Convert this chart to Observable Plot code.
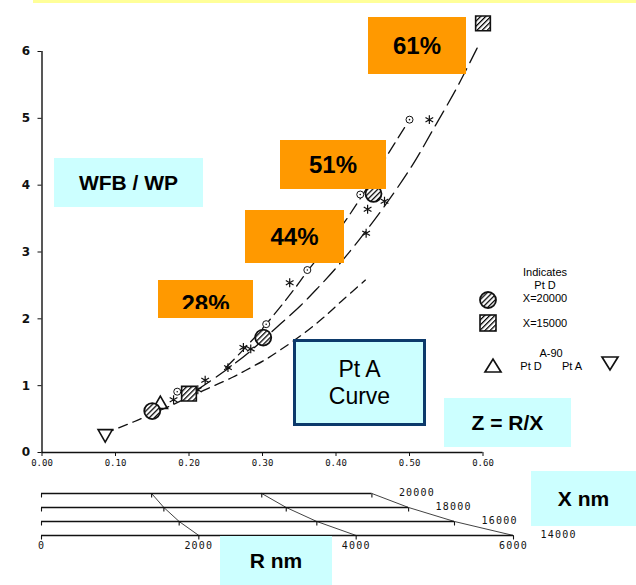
<!DOCTYPE html>
<html>
<head>
<meta charset="utf-8">
<script src="https://cdn.jsdelivr.net/npm/d3@7"></script>
<script src="https://cdn.jsdelivr.net/npm/@observablehq/plot@0.6"></script>
<style>
  body { margin: 0; background: #fff; }
  #wrap { position: relative; width: 636px; height: 585px; overflow: hidden; background: #fff; font-family: Arial, "Liberation Sans", sans-serif; }
  #wrap svg.plot { position: absolute; left: 0; }
  .box { position: absolute; display: flex; align-items: center; justify-content: center; text-align: center; color: #000; box-sizing: border-box; }
  .orange { background: #ff9900; font-weight: bold; font-size: 24px; }
  .cyan { background: #ccffff; font-weight: bold; font-size: 21px; }
  .lg { position: absolute; font-size: 11px; color: #000; transform: translate(-50%, -50%); white-space: nowrap; }
</style>
</head>
<body>
<svg width="0" height="0" style="position:absolute">
  <defs>
    <pattern id="hatch" patternUnits="userSpaceOnUse" width="3.6" height="3.6" patternTransform="rotate(45)">
      <rect width="3.6" height="3.6" fill="white"/>
      <line x1="0.5" y1="0" x2="0.5" y2="3.6" stroke="black" stroke-width="1.5"/>
    </pattern>
  </defs>
</svg>
<div id="wrap"></div>
<script>
// ---- axes
const xTicks = [0, 0.1, 0.2, 0.3, 0.4, 0.5, 0.6];
const yTicks = [0, 1, 2, 3, 4, 5, 6];

// ---- dashed curves
const lowerX = [0.086, 0.10, 0.125, 0.15, 0.175, 0.20, 0.22, 0.26, 0.284, 0.307, 0.325, 0.356, 0.383, 0.41, 0.44];
const lowerY = [0.28, 0.35, 0.46, 0.58, 0.70, 0.83, 0.93, 1.13, 1.27, 1.41, 1.54, 1.78, 2.02, 2.29, 2.58];
const middleX = [0.21, 0.25, 0.285, 0.30, 0.325, 0.352, 0.375, 0.40, 0.432, 0.465, 0.504, 0.533, 0.565, 0.592];
const middleY = [0.93, 1.23, 1.53, 1.68, 1.93, 2.20, 2.46, 2.76, 3.19, 3.67, 4.30, 4.85, 5.47, 6.05];
const upperX = [0.25, 0.275, 0.305, 0.345, 0.361, 0.39, 0.418, 0.433, 0.471, 0.50];
const upperY = [1.27, 1.55, 1.92, 2.47, 2.71, 3.12, 3.55, 3.80, 4.47, 4.98];

// ---- points
const starX = [0.179, 0.212, 0.222, 0.253, 0.274, 0.284, 0.337, 0.441, 0.443, 0.466, 0.527];
const starY = [0.79, 0.94, 1.08, 1.27, 1.57, 1.55, 2.54, 3.28, 3.64, 3.76, 4.98];
const openX = [0.184, 0.305, 0.361, 0.433, 0.50];
const openY = [0.91, 1.92, 2.73, 3.86, 4.98];
const hatchCircX = [0.15, 0.301, 0.451];
const hatchCircY = [0.62, 1.72, 3.87];
const hatchSqX = [0.20, 0.60];
const hatchSqY = [0.88, 6.42];
const triUpX = [0.161];
const triUpY = [0.72];
const triDownX = [0.086];
const triDownY = [0.28];

// ---- nomogram (R scale for different X)
const xLevels = [20000, 18000, 16000, 14000];
const rTicks = [0, 2000, 4000, 6000];
const rLabels = ["0", "2000", "4000", "6000"];

const zip = (xs, ys) => xs.map((x, i) => ({x, y: ys[i]}));

const wrap = document.getElementById("wrap");

const main = Plot.plot({
  width: 636, height: 472,
  marginLeft: 41.5, marginRight: 153.5, marginTop: 51, marginBottom: 20,
  style: {background: "transparent", overflow: "visible", color: "#111"},
  x: {domain: [0, 0.6]},
  y: {domain: [0, 6]},
  marks: [
    Plot.ruleY([0], {stroke: "#111", strokeWidth: 1.4}),
    Plot.ruleX([0], {stroke: "#111", strokeWidth: 1.4}),
    Plot.axisX({ticks: xTicks, tickFormat: d3.format(".2f"), tickSize: 4, tickPadding: 3, fontSize: 9, fontFamily: "DejaVu Sans Mono, monospace", label: null}),
    Plot.axisY({ticks: yTicks, tickFormat: d3.format("d"), tickSize: 4, tickPadding: 8, fontSize: 12, fontWeight: "bold", fontFamily: "DejaVu Sans, sans-serif", label: null}),
    Plot.line(zip(lowerX, lowerY), {x: "x", y: "y", curve: "catmull-rom", stroke: "#111", strokeWidth: 1.3, strokeDasharray: "9,6"}),
    Plot.line(zip(middleX, middleY), {x: "x", y: "y", curve: "catmull-rom", stroke: "#111", strokeWidth: 1.3, strokeDasharray: "17,7"}),
    Plot.line(zip(upperX, upperY), {x: "x", y: "y", curve: "catmull-rom", stroke: "#111", strokeWidth: 1.3, strokeDasharray: "12,6"}),
    Plot.dot(zip(starX, starY), {x: "x", y: "y", symbol: "asterisk", r: 4.2, stroke: "#111", strokeWidth: 1.2}),
    Plot.dot(zip(openX, openY), {x: "x", y: "y", r: 3.5, fill: "white", stroke: "#111", strokeWidth: 1}),
    Plot.dot(zip(openX, openY), {x: "x", y: "y", r: 0.8, fill: "#111"}),
    Plot.dot(zip(triUpX, triUpY), {x: "x", y: "y", symbol: "triangle", r: 5.3, fill: "none", stroke: "#111", strokeWidth: 1.6}),
    Plot.dot(zip(triDownX, triDownY), {x: "x", y: "y", symbol: "triangle", rotate: 180, r: 5.3, fill: "white", stroke: "#111", strokeWidth: 1.6}),
    Plot.dot(zip(hatchCircX, hatchCircY), {x: "x", y: "y", r: 8, fill: "url(#hatch)", stroke: "#111", strokeWidth: 1.8}),
    Plot.dot(zip(hatchSqX, hatchSqY), {x: "x", y: "y", symbol: "square", r: 8.3, fill: "url(#hatch)", stroke: "#111", strokeWidth: 1.6})
  ]
});
main.classList.add("plot");
main.style.top = "0px";
wrap.appendChild(main);

// nomogram
const tickSym = {draw(ctx) { ctx.moveTo(0, 0); ctx.lineTo(0, 4); }};
const tickData = xLevels.flatMap(X => rTicks.map(R => ({X, R})));
const linkData = xLevels.flatMap(X => rTicks.filter(R => R > 0).map(R => ({X, R})));
const nomo = Plot.plot({
  width: 636, height: 115,
  style: {background: "transparent", overflow: "visible", color: "#111"},
  x: {domain: [0, 6000 / 14000], range: [41, 513], axis: null},
  y: {domain: [20000, 14000], range: [23, 65], axis: null},
  marks: [
    Plot.ruleY(xLevels, {y: d => d, x1: 0, x2: d => 6000 / d, stroke: "#111", strokeWidth: 1.3}),
    Plot.dot(tickData, {x: d => d.R / d.X, y: "X", symbol: tickSym, stroke: "#111", strokeWidth: 1.1, fill: "none"}),
    Plot.line(linkData, {x: d => d.R / d.X, y: "X", z: "R", stroke: "#111", strokeWidth: 0.8}),
    Plot.text(xLevels, {x: d => 6000 / d, y: d => d, text: d => String(d), dx: 27, dy: -1, textAnchor: "start", fontSize: 10, fontFamily: "DejaVu Sans Mono, monospace", fill: "#111", style: "letter-spacing:1.5px"}),
    Plot.text(rTicks, {x: d => d / 14000, y: 14000, text: (d, i) => rLabels[i], dy: 10, fontSize: 10, fontFamily: "DejaVu Sans Mono, monospace", fill: "#111"})
  ]
});
nomo.classList.add("plot");
nomo.style.top = "470px";
nomo.querySelectorAll("text").forEach(t => t.setAttribute("letter-spacing", "1.2"));
wrap.appendChild(nomo);

// ---- annotations & legend (HTML overlay)
const html = `
<div style="position:absolute;left:33px;top:0;width:603px;height:3px;background:#ffff99"></div>
<div class="box cyan" style="left:54px;top:158px;width:149px;height:49px">WFB / WP</div>
<div class="box orange" style="left:368px;top:17px;width:98px;height:57px">61%</div>
<div class="box orange" style="left:280px;top:140px;width:106px;height:49px">51%</div>
<div class="box orange" style="left:245px;top:210px;width:99px;height:53px">44%</div>
<div class="box orange" style="left:158px;top:280px;width:95px;height:38px;display:block">
  <div style="height:29px;overflow:hidden;padding-top:12px;box-sizing:border-box;line-height:24px;text-align:center">28%</div>
</div>
<div class="box" style="left:293px;top:339px;width:133px;height:87px;background:#ccffff;border:3px solid #0c3a6b;font-size:23px;line-height:27px">Pt A<br>Curve</div>
<div class="box cyan" style="left:444px;top:398px;width:127px;height:49px">Z = R/X</div>
<div class="box cyan" style="left:531px;top:471px;width:105px;height:55px">X nm</div>
<div class="box cyan" style="left:220px;top:536px;width:112px;height:49px">R nm</div>
<div class="lg" style="left:545px;top:272px">Indicates</div>
<div class="lg" style="left:545px;top:285px">Pt D</div>
<div class="lg" style="left:545px;top:298px">X=20000</div>
<div class="lg" style="left:545px;top:323px">X=15000</div>
<div class="lg" style="left:551px;top:353px">A-90</div>
<div class="lg" style="left:531px;top:366px">Pt D</div>
<div class="lg" style="left:572px;top:366px">Pt A</div>
<svg style="position:absolute;left:0;top:0" width="636" height="585">
  <circle cx="488" cy="300" r="8" fill="url(#hatch)" stroke="#111" stroke-width="1.8"/>
  <rect x="480" y="315" width="16" height="16" fill="url(#hatch)" stroke="#111" stroke-width="1.6"/>
  <path d="M485,372 L501,372 L493,359 Z" fill="none" stroke="#111" stroke-width="1.7"/>
  <path d="M602,357 L618,357 L610,370 Z" fill="none" stroke="#111" stroke-width="1.7"/>
</svg>`;
wrap.insertAdjacentHTML("beforeend", html);
</script>
</body>
</html>
